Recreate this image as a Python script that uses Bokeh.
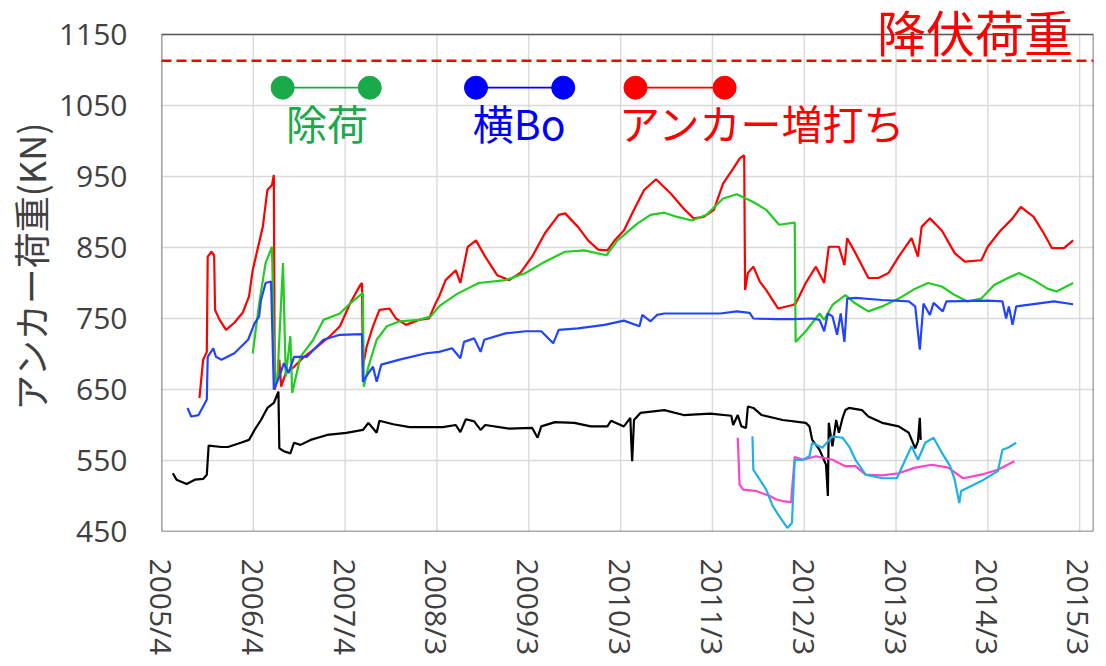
import math
import pandas as pd
from bokeh.plotting import figure
from bokeh.models import FixedTicker, Span, Label, Range1d, CustomJSTickFormatter
from bokeh.embed import file_html
from bokeh.resources import INLINE

# ---------------- data (x in decimal years, y in kN) ----------------
red_x = [2005.66, 2005.70, 2005.74, 2005.75, 2005.79, 2005.82, 2005.83, 2005.88, 2005.95,
         2006.04, 2006.13, 2006.20, 2006.24, 2006.29, 2006.35, 2006.40, 2006.45, 2006.47, 2006.48, 2006.51, 2006.53, 2006.55, 2006.60, 2006.69, 2006.80, 2006.94,
         2007.08, 2007.19, 2007.30, 2007.41, 2007.43, 2007.44, 2007.48, 2007.55, 2007.62, 2007.73, 2007.80, 2007.91,
         2008.05, 2008.16, 2008.23, 2008.27, 2008.34, 2008.45, 2008.50, 2008.58, 2008.67, 2008.77, 2008.90,
         2009.03, 2009.15, 2009.28, 2009.42, 2009.57, 2009.64, 2009.78, 2009.89,
         2010.00, 2010.10, 2010.18, 2010.28, 2010.39, 2010.50, 2010.63, 2010.79, 2010.93,
         2011.04, 2011.15, 2011.26, 2011.36, 2011.47, 2011.54, 2011.59, 2011.60, 2011.63, 2011.69, 2011.76, 2011.83, 2011.96,
         2012.12, 2012.15, 2012.26, 2012.37, 2012.46, 2012.51, 2012.62, 2012.68, 2012.71, 2012.80, 2012.94,
         2013.05, 2013.16, 2013.27, 2013.41, 2013.48, 2013.52, 2013.61, 2013.74, 2013.88, 2013.99,
         2014.17, 2014.24, 2014.38, 2014.51, 2014.60, 2014.74, 2014.85, 2014.94,
         2015.07, 2015.17]
red_y = [638, 692, 703, 837, 844, 839, 762, 748, 734,
         744, 758, 781, 818, 846, 879, 931, 938, 952, 650, 668, 692, 654, 673, 682, 696, 710,
         725, 739, 771, 797, 800, 682, 710, 739, 762, 764, 750, 741,
         748, 750, 771, 781, 804, 818, 800, 851, 860, 837, 811,
         804, 814, 837, 870, 896, 898, 879, 860,
         847, 846, 860, 874, 903, 931, 946, 926, 905,
         891, 893, 903, 940, 961, 975, 980, 790, 814, 823, 802, 790, 764,
         769, 771, 800, 823, 800, 851, 851, 825, 863, 842, 807,
         807, 814, 837, 863, 837, 879, 891, 874, 842, 830,
         832, 851, 874, 891, 907, 893, 870, 849,
         849, 860]

green_x = [2006.24, 2006.31, 2006.38, 2006.45, 2006.48, 2006.51, 2006.57, 2006.60, 2006.65, 2006.67, 2006.76, 2006.90,
           2007.01, 2007.19, 2007.30, 2007.41, 2007.44, 2007.45, 2007.50, 2007.59, 2007.70, 2007.84,
           2008.05, 2008.18, 2008.27, 2008.31, 2008.47, 2008.70, 2008.99,
           2009.21, 2009.42, 2009.64, 2009.85,
           2010.09, 2010.21, 2010.43, 2010.57, 2010.72, 2010.86,
           2011.02, 2011.18, 2011.36, 2011.51, 2011.69, 2011.83, 2011.97,
           2012.14, 2012.15, 2012.26, 2012.41, 2012.46, 2012.55, 2012.69, 2012.80, 2012.94,
           2013.09, 2013.27, 2013.45, 2013.59, 2013.74, 2013.88,
           2014.02, 2014.17, 2014.31, 2014.46, 2014.58, 2014.74, 2014.89, 2014.99,
           2015.17]
green_y = [701, 771, 828, 851, 654, 668, 828, 668, 725, 645, 696, 720,
           748, 757, 771, 783, 786, 654, 682, 720, 739, 746,
           748, 753, 767, 771, 785, 800, 804,
           814, 830, 844, 846,
           839, 860, 884, 896, 899, 893,
           888, 896, 919, 925, 914, 903, 882,
           885, 717, 732, 757, 748, 769, 783, 771, 760,
           767, 778, 792, 800, 795, 783,
           774, 778, 797, 807, 814, 804, 792, 788,
           800]

blue_x = [2005.53, 2005.57, 2005.65, 2005.70, 2005.74, 2005.75, 2005.81, 2005.84, 2005.90,
          2006.04, 2006.19, 2006.26, 2006.31, 2006.33, 2006.38, 2006.44, 2006.47, 2006.53, 2006.58, 2006.63, 2006.69, 2006.83,
          2007.01, 2007.19, 2007.43, 2007.44, 2007.50, 2007.55, 2007.59, 2007.64, 2007.84,
          2008.13, 2008.27, 2008.41, 2008.50, 2008.54, 2008.65, 2008.72, 2008.76, 2008.99,
          2009.21, 2009.38, 2009.51, 2009.57, 2009.78,
          2010.07, 2010.28, 2010.45, 2010.48, 2010.57, 2010.64, 2010.72, 2010.97,
          2011.33, 2011.51, 2011.65, 2011.69, 2011.94,
          2012.12, 2012.33, 2012.41, 2012.46, 2012.50, 2012.55, 2012.60, 2012.64, 2012.68, 2012.71, 2012.80,
          2013.09, 2013.38, 2013.45, 2013.50, 2013.54, 2013.61, 2013.65, 2013.75, 2013.79,
          2014.24, 2014.40, 2014.44, 2014.47, 2014.51, 2014.55, 2014.78, 2014.96,
          2015.17]
blue_y = [624, 612, 614, 626, 636, 696, 708, 696, 692,
          701, 720, 743, 753, 776, 800, 802, 650, 668, 687, 673, 696, 696,
          720, 727, 728, 661, 673, 682, 661, 685, 692,
          701, 703, 708, 694, 717, 722, 703, 720, 729,
          732, 732, 715, 734, 736,
          741, 747, 739, 755, 746, 755, 757, 757,
          757, 760, 758, 750, 749,
          749, 750, 748, 732, 757, 753, 727, 757, 717, 778, 779,
          776, 774, 767, 706, 771, 755, 772, 760, 774,
          775, 774, 750, 767, 741, 767, 771, 774,
          770]

black_x = [2005.37, 2005.41, 2005.52, 2005.61, 2005.70, 2005.74, 2005.76, 2005.90, 2005.97,
           2006.11, 2006.20, 2006.26, 2006.33, 2006.40, 2006.47, 2006.52, 2006.53, 2006.58, 2006.65, 2006.69, 2006.76, 2006.87,
           2007.05, 2007.26, 2007.44, 2007.50, 2007.59, 2007.62, 2007.77, 2007.95,
           2008.31, 2008.45, 2008.50, 2008.56, 2008.65, 2008.72, 2008.77,
           2009.03, 2009.28, 2009.34, 2009.38, 2009.53, 2009.74, 2009.92,
           2010.10, 2010.14, 2010.28, 2010.35, 2010.36, 2010.37, 2010.39, 2010.46, 2010.72, 2010.93,
           2011.22, 2011.45, 2011.47, 2011.52, 2011.56, 2011.61, 2011.63, 2011.69, 2011.78,
           2012.01, 2012.26, 2012.30, 2012.33, 2012.41, 2012.48, 2012.50, 2012.51, 2012.55, 2012.59, 2012.62, 2012.66, 2012.69, 2012.73, 2012.87, 2012.94,
           2013.09, 2013.27, 2013.38, 2013.45, 2013.48, 2013.50, 2013.51]
black_y = [532, 523, 517, 523, 524, 530, 571, 569, 569,
           575, 579, 593, 607, 624, 631, 647, 567, 563, 560, 575, 572, 579,
           586, 589, 593, 603, 589, 606, 601, 597,
           597, 600, 590, 608, 605, 593, 600,
           595, 596, 582, 598, 604, 603, 598,
           598, 606, 598, 610, 577, 549, 607, 617, 621, 614,
           616, 613, 600, 614, 598, 596, 626, 624, 614,
           607, 603, 598, 579, 565, 544, 500, 603, 570, 607, 589, 610, 621, 624, 621, 612,
           603, 598, 589, 567, 577, 610, 579]

magenta_x = [2011.52, 2011.54, 2011.58, 2011.72, 2011.87, 2011.94, 2012.01, 2012.10, 2012.14, 2012.23, 2012.37, 2012.55,
             2012.69, 2012.80, 2012.91, 2013.09, 2013.27, 2013.45, 2013.63, 2013.81, 2013.97, 2014.17, 2014.35, 2014.53]
magenta_y = [582, 516, 509, 507, 500, 495, 493, 491, 555, 551, 556, 551,
             542, 542, 530, 529, 532, 540, 544, 540, 525, 530, 537, 549]

cyan_x = [2011.68, 2011.69, 2011.76, 2011.83, 2011.90, 2011.97,
          2012.06, 2012.11, 2012.14, 2012.23, 2012.30, 2012.33, 2012.44, 2012.55, 2012.66, 2012.73, 2012.80, 2012.91,
          2013.09, 2013.25, 2013.31, 2013.41, 2013.48, 2013.56, 2013.65, 2013.74, 2013.83, 2013.88, 2013.93, 2013.95,
          2014.17, 2014.35, 2014.40, 2014.46, 2014.55]
cyan_y = [584, 537, 523, 509, 486, 472,
          455, 462, 551, 551, 556, 575, 568, 584, 582, 570, 551, 530,
          525, 525, 542, 570, 551, 575, 582, 561, 542, 523, 490, 507,
          521, 535, 565, 568, 575]

yield_load = 1113

tick_dates = ["2005-04-01", "2006-04-01", "2007-04-01", "2008-03-31", "2009-03-31", "2010-03-31",
              "2011-03-31", "2012-03-30", "2013-03-30", "2014-03-30", "2015-03-30"]
tick_labels = ["2005/4", "2006/4", "2007/4", "2008/3", "2009/3", "2010/3",
               "2011/3", "2012/3", "2013/3", "2014/3", "2015/3"]
y_ticks = [450, 550, 650, 750, 850, 950, 1050, 1150]

legend_labels = ["除荷", "横Bo", "アンカー増打ち"]
title_text = "降伏荷重"
y_title = "アンカー荷重(KN)"

# ---------------- helpers ----------------
def ms(date_str):
    return pd.Timestamp(date_str).value / 1e6

def dec_year_ms(years):
    out = []
    for y in years:
        yi = int(math.floor(y))
        start = pd.Timestamp(year=yi, month=1, day=1)
        end = pd.Timestamp(year=yi + 1, month=1, day=1)
        out.append((start + (end - start) * (y - yi)).value / 1e6)
    return out

tick_ms = [ms(d) for d in tick_dates]
x_start, x_end = ms("2005-04-01"), ms("2015-05-24")
y_lo, y_hi = y_ticks[0], y_ticks[-1]
# extra head-room above the plotted box so the title text can sit over its top edge
y_view_top = 1197.8

p = figure(width=1098, height=658, x_axis_type="datetime",
           x_range=Range1d(x_start, x_end),
           y_range=Range1d(y_lo, y_view_top),
           output_backend="svg", toolbar_location=None,
           min_border_left=152, min_border_right=5, min_border_top=0, min_border_bottom=126)

p.background_fill_color = "white"
p.border_fill_color = "white"
p.outline_line_color = None

p.xaxis.ticker = FixedTicker(ticks=tick_ms)
p.xaxis.formatter = CustomJSTickFormatter(args=dict(tvals=tick_ms, tlabels=tick_labels), code="""
    for (let i = 0; i < tvals.length; i++) {
        if (Math.abs(tvals[i] - tick) < 1e6) { return tlabels[i]; }
    }
    return "";
""")
p.yaxis.ticker = FixedTicker(ticks=y_ticks)
p.yaxis.bounds = (y_lo, y_hi)
p.xgrid.visible = False
p.ygrid.ticker = FixedTicker(ticks=y_ticks)
p.ygrid.grid_line_color = "#dadada"
p.ygrid.grid_line_width = 1.4

# vertical grid lines, limited to the plotted box
p.segment(x0=tick_ms, y0=[y_lo] * len(tick_ms), x1=tick_ms, y1=[y_hi] * len(tick_ms),
          line_color="#dadada", line_width=1.4)

p.axis.axis_line_color = None
p.axis.major_tick_line_color = None
p.axis.minor_tick_line_color = None
p.axis.major_label_text_font = "Open Sans"
p.axis.major_label_text_font_size = "30px"
p.axis.major_label_text_color = "#404040"
p.xaxis.major_label_orientation = -math.pi / 2
p.xaxis.major_label_standoff = 21
p.yaxis.major_label_standoff = 28

p.yaxis.axis_label = y_title
p.yaxis.axis_label_text_font = "Noto Sans CJK JP"
p.yaxis.axis_label_text_font_size = "36px"
p.yaxis.axis_label_text_font_style = "normal"
p.yaxis.axis_label_text_color = "#404040"
p.yaxis.axis_label_standoff = 0

# ---------------- series ----------------
lw = 2.2
p.line(dec_year_ms(black_x), black_y, line_color="black", line_width=lw)
p.line(dec_year_ms(magenta_x), magenta_y, line_color="#ff44c8", line_width=lw)
p.line(dec_year_ms(cyan_x), cyan_y, line_color="#1fb0e8", line_width=lw)
p.line(dec_year_ms(red_x), red_y, line_color="#ff0000", line_width=lw)
p.line(dec_year_ms(green_x), green_y, line_color="#22cc22", line_width=lw)
p.line(dec_year_ms(blue_x), blue_y, line_color="#2244ff", line_width=lw)

# plot box outline
p.quad(left=[x_start], right=[x_end], bottom=[y_lo], top=[y_hi],
       fill_color=None, line_color="#595959", line_width=1.6)

p.add_layout(Span(location=yield_load, dimension="width", line_color="#ff0000",
                  line_width=2.5, line_dash="10 5"))

# ---------------- custom legend (circle - line - circle, label below) ----------------
legend_colors = ["#1aaa4a", "#0000ff", "#ff0000"]
legend_spans = [(2006.566, 2007.515), (2008.670, 2009.619), (2010.406, 2011.377)]
legend_text_x = [2007.05, 2009.14, 2011.79]
marker_y = 1075
for lab, col, (x1, x2), tx in zip(legend_labels, legend_colors, legend_spans, legend_text_x):
    xs = dec_year_ms([x1, x2])
    p.line(xs, [marker_y, marker_y], line_color=col, line_width=1.8)
    p.scatter(xs, [marker_y, marker_y], size=23, fill_color=col, line_color=col)
    p.add_layout(Label(x=dec_year_ms([tx])[0], y=1027, text=lab, text_align="center",
                       text_baseline="middle", text_font="Noto Sans CJK JP",
                       text_font_size="41px", text_color=col))

p.add_layout(Label(x=dec_year_ms([2014.10])[0], y=1155.6, text=title_text, text_align="center",
                   text_baseline="middle", text_font="Noto Sans CJK JP",
                   text_font_size="49px", text_color="#ff0000"))

open("out.html", "w").write(file_html(p, INLINE))
